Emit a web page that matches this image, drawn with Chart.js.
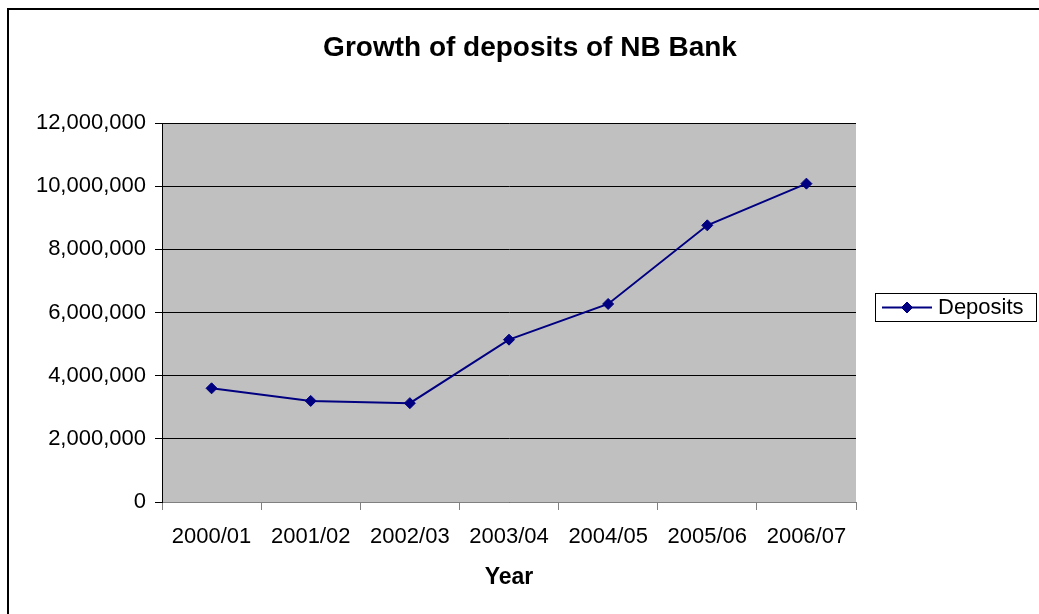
<!DOCTYPE html>
<html>
<head>
<meta charset="utf-8">
<script src="https://cdn.jsdelivr.net/npm/chart.js@4/dist/chart.umd.min.js"></script>
<style>
  html, body { margin: 0; padding: 0; background: #ffffff; }
  #wrap { position: relative; width: 1039px; height: 614px; }
</style>
</head>
<body>
<div id="wrap"><canvas id="depositsChart" width="1039" height="614"></canvas></div>
<script>
// Deposits of NB Bank by fiscal year
var YEARS = ['2000/01', '2001/02', '2002/03', '2003/04', '2004/05', '2005/06', '2006/07'];
var DEPOSITS = [3600000, 3200000, 3130000, 5140000, 6270000, 8760000, 10080000];
var Y_MIN = 0;
var Y_MAX = 12000000;
var Y_STEP = 2000000;

var CHART_TITLE = 'Growth of deposits of NB Bank';
var X_TITLE = 'Year';
var SERIES_LABEL = 'Deposits';

var FONT = "'Liberation Sans', Arial, sans-serif";
var NAVY = '#000080';

// gray plot background, outer frame, title and boxed legend
var excelLook = {
  id: 'excelLook',
  beforeDraw: function(chart) {
    var ctx = chart.ctx;
    var a = chart.chartArea;
    ctx.save();
    ctx.fillStyle = '#c0c0c0';
    ctx.fillRect(a.left, a.top, a.right - a.left, a.bottom - a.top);
    ctx.restore();
  },
  afterDraw: function(chart) {
    var ctx = chart.ctx;
    ctx.save();

    // outer frame
    ctx.strokeStyle = '#000000';
    ctx.lineWidth = 2;
    ctx.strokeRect(8, 9, 1100, 700);

    // title
    ctx.fillStyle = '#000000';
    ctx.font = 'bold 28px ' + FONT;
    ctx.textAlign = 'center';
    ctx.textBaseline = 'middle';
    ctx.fillText(CHART_TITLE, 530, 48);

    // legend
    var ds = chart.data.datasets[0];
    ctx.lineWidth = 1;
    ctx.strokeStyle = '#000000';
    ctx.strokeRect(875.5, 293.5, 161, 28);
    ctx.strokeStyle = ds.borderColor;
    ctx.lineWidth = 2;
    ctx.beginPath();
    ctx.moveTo(882, 307.5);
    ctx.lineTo(932, 307.5);
    ctx.stroke();
    ctx.fillStyle = ds.pointBackgroundColor;
    ctx.strokeStyle = ds.pointBorderColor;
    ctx.lineWidth = 1;
    Chart.helpers.drawPoint(ctx, { pointStyle: 'rectRot', radius: ds.pointRadius, borderWidth: 1 }, 907, 307.5);
    ctx.fillStyle = '#000000';
    ctx.font = '22px ' + FONT;
    ctx.textAlign = 'left';
    ctx.textBaseline = 'middle';
    ctx.fillText(ds.label, 938, 308);
    ctx.restore();
  }
};

var chart = new Chart(document.getElementById('depositsChart'), {
  type: 'line',
  data: {
    labels: YEARS,
    datasets: [{
      label: SERIES_LABEL,
      data: DEPOSITS,
      borderColor: NAVY,
      backgroundColor: NAVY,
      borderWidth: 2,
      pointStyle: 'rectRot',
      pointRadius: 5.5,
      pointBackgroundColor: NAVY,
      pointBorderColor: NAVY,
      pointBorderWidth: 1,
      tension: 0,
      fill: false
    }]
  },
  options: {
    responsive: false,
    animation: false,
    layout: { padding: { left: 0, right: 183, top: 123, bottom: 23 } },
    plugins: {
      legend: { display: false },
      title: { display: false },
      tooltip: { enabled: false }
    },
    scales: {
      x: {
        offset: true,
        grid: { offset: true, drawOnChartArea: false, drawTicks: true, tickLength: 8, color: '#808080', lineWidth: 1 },
        border: { color: '#808080', width: 1 },
        ticks: { color: '#000000', padding: 14, font: { family: FONT, size: 22 }, maxRotation: 0, autoSkip: false },
        title: { display: true, text: X_TITLE, color: '#000000', padding: 0, font: { family: FONT, size: 23, weight: 'bold' } },
        afterFit: function(scale) { scale.height = 89; }
      },
      y: {
        min: Y_MIN,
        max: Y_MAX,
        grid: { color: '#000000', lineWidth: 1, tickLength: 7, drawTicks: true },
        border: { color: '#000000', width: 1 },
        ticks: {
          stepSize: Y_STEP,
          color: '#000000',
          padding: 9,
          font: { family: FONT, size: 22 },
          callback: function(v) { return v.toLocaleString('en-US'); }
        },
        afterFit: function(scale) { scale.width = 162; }
      }
    }
  },
  plugins: [excelLook]
});
</script>
</body>
</html>
